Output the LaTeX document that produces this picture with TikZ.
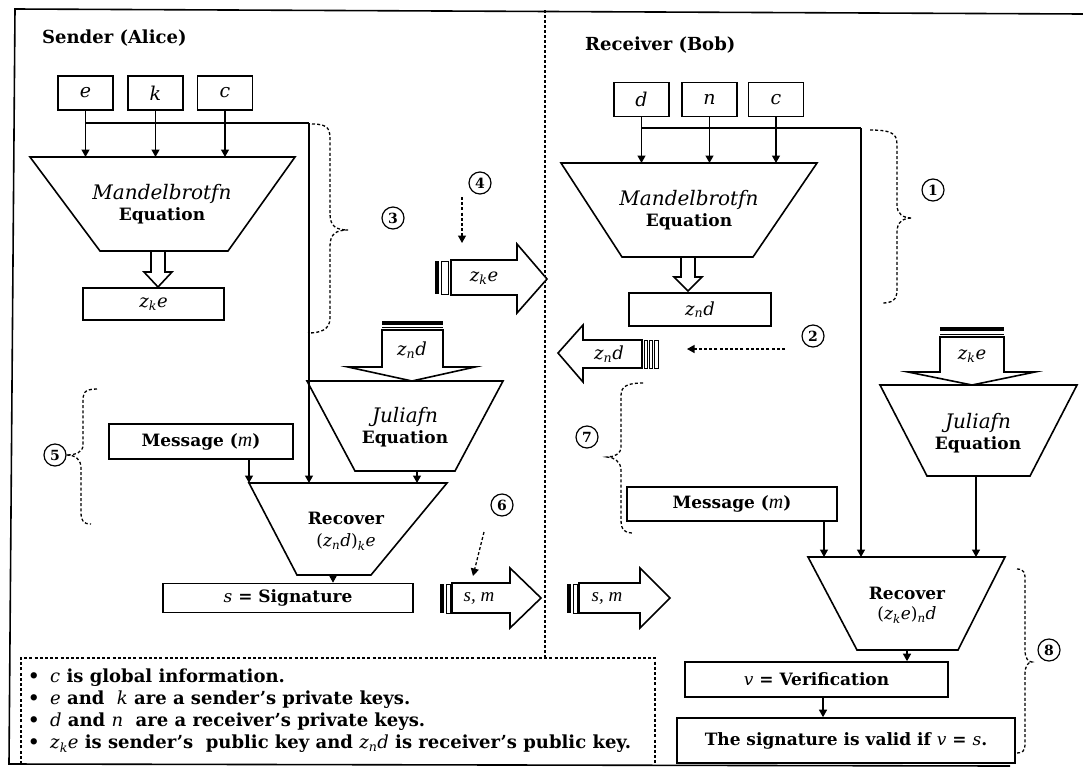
\documentclass[tikz,border=0pt]{standalone}
\usepackage{fontspec}
\setmainfont{DejaVu Serif}
\newfontfamily\tms{Liberation Serif}
\usetikzlibrary{arrows.meta}
\newcommand\zke{\textit{z}\textsubscript{\textit{k}}\textit{e}}
\newcommand\znd{\textit{z}\textsubscript{\textit{n}}\textit{d}}
\newcommand\fsz[1]{\fontsize{#1}{#1}\selectfont}
\begin{document}
\begin{tikzpicture}[x=1pt,y=-1pt,
  lw/.style={line width=1.6pt},
  boxst/.style={draw,line width=1.6pt,inner sep=0pt},
  trap/.style={draw,line width=1.6pt,line join=miter},
  arr/.style={line width=1.3pt,-{Triangle[length=7.5pt,width=8pt]}},
  dsh/.style={line width=1.3pt,dash pattern=on 3pt off 2.2pt},
  darr/.style={dsh,-{Triangle[length=7.5pt,width=8pt]}},
  circnum/.style={circle,draw,line width=1.2pt,inner sep=0pt,minimum size=22pt,font=\fsz{14}\bfseries},
  lb/.style={font=\fsz{17}\bfseries,inner sep=0pt},
  li/.style={font=\fsz{20}\itshape,inner sep=0pt},
  lg/.style={font=\fsz{18}\bfseries,inner sep=0pt,anchor=west},
  keybox/.style={boxst,minimum width=55pt,minimum height=34pt,font=\fsz{19}\itshape},
  fat/.style={draw,line width=1.6pt,line join=miter,fill=white},
  bar/.style={draw,line width=0.9pt},
]
\fill[white] (0,0) rectangle (1083,774);
\useasboundingbox (0,0) rectangle (1083,774);

% frame and divider
\draw[line width=1.6pt] (1083,14) -- (15,9) -- (9,764) -- (1010,766);
\draw[line width=1.1pt,dash pattern=on 3pt off 2pt] (545,10) -- (545,658);

% ================= SENDER =================
\node[lb,anchor=west,font=\fsz{18}\bfseries] (sender) at (42,38) {Sender (Alice)};
\node[keybox] (e) at (85.5,93) {e};
\node[keybox] (k) at (155.5,93) {k};
\node[keybox] (c1) at (225,93) {c};
\coordinate (MLtop) at (160,157);
\coordinate (busL) at (309,123);
\coordinate (RLtop) at (348,483);
\draw[lw] (e.south |- busL) -- (busL);
\draw[arr] (e.south) -- (e.south |- MLtop);
\draw[arr] (k.south) -- (k.south |- MLtop);
\draw[arr] (c1.south) -- (c1.south |- MLtop);
\draw[arr] (busL) -- (busL |- RLtop);

\draw[trap] (30,157) -- (295,157) -- (228,251) -- (100,251) -- cycle;
\node[li] (ML1) at (162,194) {Mandelbrotfn};
\node[lb] (ML2) at (162,216) {Equation};
\draw[lw,line join=miter] (151,251) -- (151,272) -- (144,272) -- (158,287) -- (172,272) -- (165,272) -- (165,251);
\node[boxst,minimum width=141pt,minimum height=32pt,font=\fsz{18}] (zkeL) at (153.5,304) {\zke};

% brace 3
\draw[dsh] (312,124) .. controls (330,124) and (330,130) .. (330,142) -- (330,214) .. controls (330,226) and (336,230) .. (348,230) .. controls (336,230) and (330,234) .. (330,246) -- (330,318) .. controls (330,330) and (320,333) .. (308,333);
\node[circnum] (n3) at (393,218) {3};
\node[circnum] (n4) at (480,183) {4};
\coordinate (d4a) at (462,197);
\coordinate (d4b) at (462,243);
\draw[darr] (d4a) -- (d4b);

% z_k e fat arrow (to receiver)
\fill (435,261) rectangle (439,294);
\draw[bar] (441,261) rectangle (448,294);
\draw[fat] (451,260) -- (517,260) -- (517,244) -- (547,279) -- (517,313) -- (517,295) -- (451,295) -- cycle;
\node[font=\fsz{18}] (zkeA) at (484,278) {\zke};

% z_n d down arrow into Julia (sender)
\fill (382,321) rectangle (443,325);
\draw[line width=0.8pt] (382,327.5) -- (443,327.5);
\draw[fat] (382,330) -- (382,367) -- (348,367) -- (412,381) -- (475,367) -- (443,367) -- (443,330) -- cycle;
\node[font=\fsz{18}] (zndD) at (412,350) {\znd};

\draw[trap] (307,381) -- (503,381) -- (455,471) -- (355,471) -- cycle;
\node[li] (JL1) at (405,417) {Juliafn};
\node[lb] (JL2) at (405,439) {Equation};
\coordinate (JLbot) at (417,471);
\draw[arr] (JLbot) -- (JLbot |- RLtop);

\node[boxst,minimum width=184pt,minimum height=35pt,lb] (msgL) at (201,441.5) {Message ({\tms\mdseries\itshape\fsz{20}m})};
\draw[arr] ([xshift=48pt]msgL.south) -- ([xshift=48pt]msgL.south |- RLtop);

% brace 5
\node[circnum] (n5) at (55,455) {5};
\draw[dsh] (97,389) .. controls (83,389) and (83,394) .. (83,402) -- (83,445) .. controls (83,452) and (76,455) .. (n5.east) ;
\draw[dsh] (n5.east) .. controls (76,455) and (81,460) .. (81,468) -- (81,512) .. controls (81,522) and (84,524) .. (91,524);

\draw[trap] (249,483) -- (447,483) -- (371,575) -- (297,575) -- cycle;
\node[lb] (RL1) at (346,518) {Recover};
\node[font=\fsz{17}] (RL2) at (346,542) {(\znd)\textsubscript{\textit{k}}\textit{e}};
\coordinate (RLbot) at (333,575);
\node[boxst,minimum width=250pt,minimum height=29pt,lb] (sig) at (288,598) {{\mdseries\itshape s} = Signature};
\draw[arr] (RLbot) -- (RLbot |- sig.north);

% 6
\node[circnum] (n6) at (502,505) {6};
\coordinate (d6a) at (484,532);
\coordinate (d6b) at (473,576);
\draw[darr] (d6a) -- (d6b);

% s,m arrows
\fill (440,584) rectangle (444,613);
\draw[bar] (446,584) rectangle (450,613);
\draw[fat] (452,583) -- (510,583) -- (510,568) -- (541,598) -- (510,628) -- (510,613) -- (452,613) -- cycle;
\node[font=\tms\fsz{19}\itshape] (sm1) at (479,598) {s, m};
\fill (567,584) rectangle (571,613);
\draw[bar] (573,584) rectangle (577,613);
\draw[fat] (579,583) -- (640,583) -- (640,568) -- (670,598) -- (640,628) -- (640,613) -- (579,613) -- cycle;
\node[font=\tms\fsz{19}\itshape] (sm2) at (607,598) {s, m};

% legend
\draw[dsh] (21,764) -- (21,658) -- (655,658) -- (655,764);
\node[lg] (lg1) at (28,678) {\makebox[22pt][l]{•}{\mdseries\itshape c} is global information.};
\node[lg] (lg2) at (28,700) {\makebox[22pt][l]{•}{\mdseries\itshape e} and~ {\mdseries\itshape k} are a sender’s private keys.};
\node[lg] (lg3) at (28,722) {\makebox[22pt][l]{•}{\mdseries\itshape d} and {\mdseries\itshape n}~ are a receiver’s private keys.};
\node[lg] (lg4) at (28,744) {\makebox[22pt][l]{•}{\mdseries\zke} is sender’s~ public key and {\mdseries\znd} is receiver’s public key.};

% ================= RECEIVER =================
\node[lb,anchor=west,font=\fsz{18}\bfseries] (receiver) at (585,45) {Receiver (Bob)};
\node[keybox] (d) at (641.5,99.5) {d};
\node[keybox] (n) at (709.5,99.5) {n};
\node[keybox] (c2) at (776,99.5) {c};
\coordinate (MRtop) at (689,163);
\coordinate (busR) at (861,128);
\coordinate (RRtop) at (907,557);
\draw[lw] (d.south |- busR) -- (busR);
\draw[arr] (d.south) -- (d.south |- MRtop);
\draw[arr] (n.south) -- (n.south |- MRtop);
\draw[arr] (c2.south) -- (c2.south |- MRtop);
\draw[arr] (busR) -- (busR |- RRtop);

\draw[trap] (561,163) -- (817,163) -- (753,257) -- (622,257) -- cycle;
\node[li] (MR1) at (689,200) {Mandelbrotfn};
\node[lb] (MR2) at (689,222) {Equation};
\draw[lw,line join=miter] (681,257) -- (681,277) -- (674,277) -- (688,291) -- (702,277) -- (695,277) -- (695,257);
\node[boxst,minimum width=142pt,minimum height=33pt,font=\fsz{18}] (zndR) at (700,309.5) {\znd};

% brace 1
\draw[dsh] (870,130) .. controls (897,130) and (897,136) .. (897,148) -- (897,205) .. controls (897,214) and (903,218) .. (912,218) .. controls (903,218) and (897,222) .. (897,232) -- (897,290) .. controls (897,300) and (892,303) .. (882,303);
\node[circnum] (n1) at (933,190) {1};

% 2
\node[circnum] (n2) at (813,336) {2};
\coordinate (d2a) at (785,349);
\coordinate (d2b) at (687,349);
\draw[darr] (d2a) -- (d2b);

% z_n d fat arrow (to sender)
\draw[bar] (644,340) rectangle (647,368);
\draw[bar] (649,340) rectangle (652,368);
\draw[bar] (654,340) rectangle (658,368);
\draw[fat] (642,340) -- (583,340) -- (583,325) -- (558,353) -- (583,382) -- (583,368) -- (642,368) -- cycle;
\node[font=\fsz{18}] (zndA) at (609,354) {\znd};

% brace 7
\node[circnum] (n7) at (587,437) {7};
\draw[dsh] (643,383) .. controls (621,383) and (621,390) .. (621,398) -- (621,447) .. controls (621,454) and (614,457) .. (607,457) .. controls (614,457) and (621,462) .. (621,470) -- (621,520) .. controls (621,530) and (625,533) .. (632,533);

% z_k e down arrow into Julia (receiver)
\fill (940,327) rectangle (1004,331);
\draw[line width=0.8pt] (940,334) -- (1004,334);
\draw[fat] (940,337) -- (940,372) -- (908,372) -- (972,385) -- (1035,372) -- (1004,372) -- (1004,337) -- cycle;
\node[font=\fsz{18}] (zkeD) at (972,356) {\zke};

\draw[trap] (880,385) -- (1077,385) -- (1030,476) -- (927,476) -- cycle;
\node[li] (JR1) at (978,423) {Juliafn};
\node[lb] (JR2) at (978,445) {Equation};
\coordinate (JRbot) at (976,476);
\draw[arr] (JRbot) -- (JRbot |- RRtop);

\node[boxst,minimum width=210pt,minimum height=34pt,lb] (msgR) at (732,504) {Message ({\tms\mdseries\itshape\fsz{20}m})};
\draw[arr] ([xshift=92pt]msgR.south) -- ([xshift=92pt]msgR.south |- RRtop);

\draw[trap] (808,557) -- (1005,557) -- (958,650) -- (857,650) -- cycle;
\node[lb] (RR1) at (907,593) {Recover};
\node[font=\fsz{17}] (RR2) at (907,615) {(\zke)\textsubscript{\textit{n}}\textit{d}};
\coordinate (RRbot) at (907,650);
\node[boxst,minimum width=263pt,minimum height=35pt,lb] (ver) at (816.5,679.5) {{\mdseries\itshape v} = Verification};
\draw[arr] (RRbot) -- (RRbot |- ver.north);
\node[boxst,minimum width=338pt,minimum height=45pt,lb] (valid) at (846,740.5) {The signature is valid if {\mdseries\itshape v} = {\mdseries\itshape s}.};
\draw[arr] ([xshift=6.5pt]ver.south) -- ([xshift=6.5pt]ver.south |- valid.north);

% brace 8
\draw[dsh] (1017,569) .. controls (1025,569) and (1025,574) .. (1025,580) -- (1025,650) .. controls (1025,658) and (1028,662) .. (1032,662) .. controls (1028,662) and (1025,666) .. (1025,674) -- (1025,745) .. controls (1025,751) and (1022,753) .. (1017,753);
\node[circnum] (n8) at (1049,650) {8};
\end{tikzpicture}
\end{document}
